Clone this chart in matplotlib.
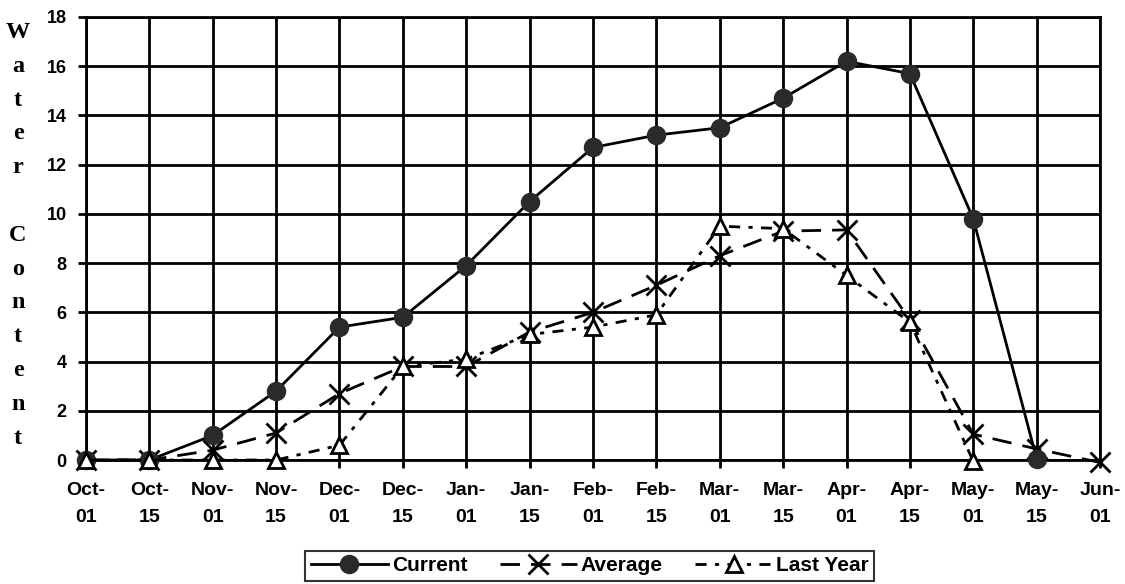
import matplotlib.pyplot as plt

dates = ["Oct-\n01", "Oct-\n15", "Nov-\n01", "Nov-\n15", "Dec-\n01", "Dec-\n15",
         "Jan-\n01", "Jan-\n15", "Feb-\n01", "Feb-\n15", "Mar-\n01", "Mar-\n15",
         "Apr-\n01", "Apr-\n15", "May-\n01", "May-\n15", "Jun-\n01"]

current = [0, 0, 1.0, 2.8, 5.4, 5.8, 7.9, 10.5, 12.7, 13.2, 13.5, 14.7,
           16.2, 15.7, 9.8, 0.05]
average = [0, 0, 0.4, 1.1, 2.7, 3.8, 3.8, 5.2, 6.0, 7.1, 8.3, 9.3,
           9.35, 5.7, 1.05, 0.45, -0.1]
last_year = [0, 0, 0, 0, 0.6, 3.8, 4.1, 5.1, 5.4, 5.9, 9.5, 9.4,
             7.5, 5.6, -0.05]

y_ticks = list(range(0, 19, 2))

plt.rcParams["font.family"] = ["Liberation Sans", "DejaVu Sans"]
plt.rcParams["font.weight"] = "bold"

fig = plt.figure(figsize=(11.25, 5.84), dpi=100)
ax = fig.add_axes([0.0764, 0.2123, 0.9014, 0.7586])

x_cur = list(range(len(current)))
x_avg = list(range(len(average)))
x_ly = list(range(len(last_year)))

ax.plot(x_cur, current, color="black", lw=2, marker="o", ms=13,
        mfc="#2a2a2a", mec="#2a2a2a", label="Current", clip_on=False, zorder=5)
ax.plot(x_avg, average, color="black", lw=2, ls=(0, (7, 4)), marker="x", ms=14,
        mew=2, label="Average", clip_on=False, zorder=4)
ax.plot(x_ly, last_year, color="black", lw=2, ls=(0, (4, 3, 1.5, 3)), marker="^",
        ms=12, mfc="white", mec="black", mew=2, label="Last Year",
        clip_on=False, zorder=6)

ax.set_xlim(0, 16)
ax.set_ylim(0, 18)
ax.set_xticks(range(len(dates)))
ax.set_xticklabels(dates, fontsize=14, fontweight="bold", linespacing=1.75)
ax.set_yticks(y_ticks)
ax.set_yticklabels([str(v) for v in y_ticks], fontsize=13, fontweight="bold")
ax.tick_params(axis="both", direction="out", length=6, width=2, color="black")
ax.tick_params(axis="x", pad=10)
ax.tick_params(axis="y", pad=8)
ax.grid(True, color="black", lw=2)
ax.set_axisbelow(True)
for side in ax.spines.values():
    side.set_linewidth(2)
    side.set_color("black")

fig.text(0.016, 0.597, "W\na\nt\ne\nr\n\nC\no\nn\nt\ne\nn\nt",
         family=["Liberation Serif", "DejaVu Serif"], fontsize=17.5,
         fontweight="bold", ha="center", va="center", linespacing=1.8)

leg = fig.legend(loc="center", bbox_to_anchor=(0.5244, 0.031), ncol=3,
                 handlelength=3.7, columnspacing=1.55,
                 handletextpad=0.2, fancybox=False, borderpad=0.25,
                 prop={"weight": "bold", "size": 15})
leg.get_frame().set_edgecolor("black")
leg.get_frame().set_linewidth(1.5)

fig.savefig("out.png", dpi=100)
